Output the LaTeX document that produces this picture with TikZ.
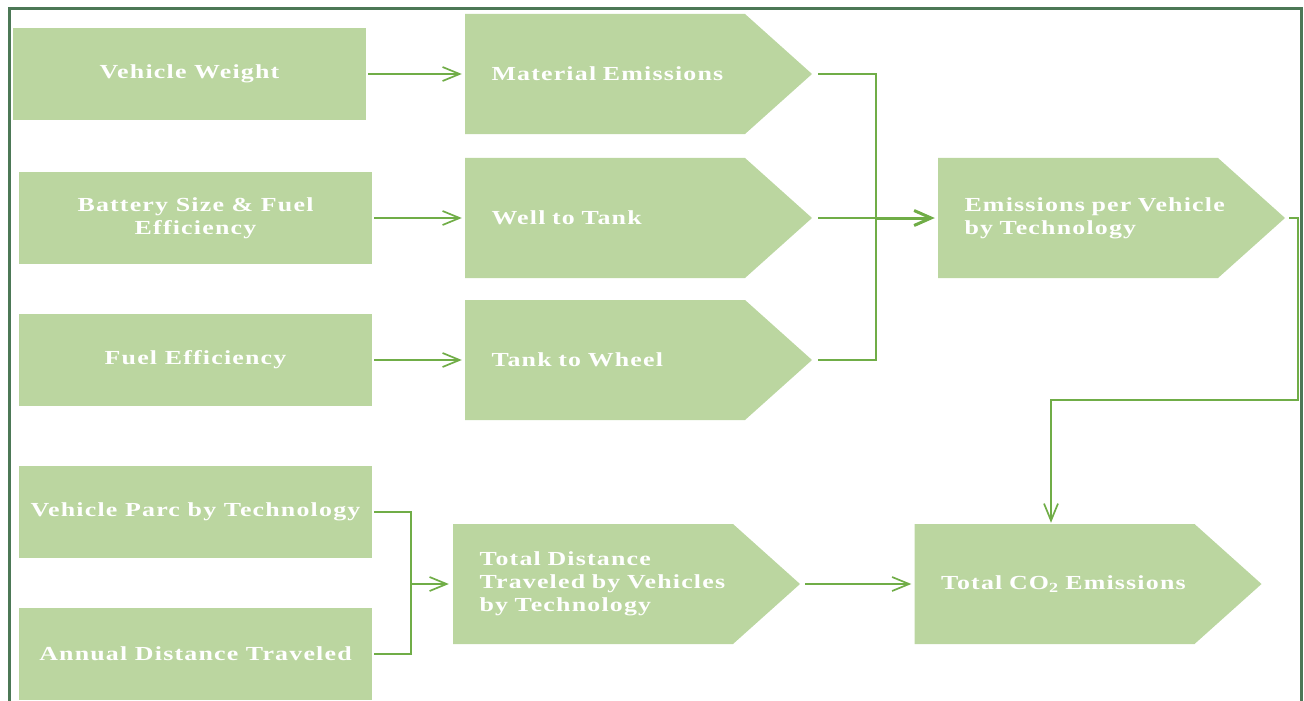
\documentclass[tikz,border=0pt]{standalone}
\usepackage{fontspec}
\usetikzlibrary{arrows.meta,calc}
\newfontfamily\boxfont[FakeStretch=1.3,LetterSpace=6]{Liberation Serif Bold}
\definecolor{boxgreen}{RGB}{187,214,160}
\definecolor{linegreen}{RGB}{112,173,71}
\definecolor{framegreen}{RGB}{76,120,86}
\begin{document}
\begin{tikzpicture}[x=1bp,y=-1bp,
  txt/.style={font={\boxfont\fontsize{20}{23}\selectfont}, text=white},
  rectbox/.style={txt, fill=boxgreen, minimum width=353bp, minimum height=92bp, inner sep=0pt, align=center},
  chevbox/.style={txt, minimum width=347bp, minimum height=120bp, inner sep=0pt, text width=294bp, align=left,
    path picture={\fill[boxgreen] (path picture bounding box.north west) -- ([xshift=-67bp]path picture bounding box.north east) -- (path picture bounding box.east) -- ([xshift=-67bp]path picture bounding box.south east) -- (path picture bounding box.south west) -- cycle;}},
  conn/.style={draw=linegreen, line width=1.7bp},
  arr/.style={conn, -{Straight Barb[length=17bp,width=14bp,line width=1.7bp]}}
]
\useasboundingbox (0,0) rectangle (1304,700);
\draw[framegreen, line width=3bp] (9,9) rectangle (1301,720);

% left boxes
\node[rectbox] (vw) at (189.5,74) {Vehicle Weight};
\node[rectbox] (bat) at (195.5,218) {Battery Size \& Fuel\\Efficiency};
\node[rectbox] (fe) at (195.5,360) {Fuel Efficiency};
\node[rectbox] (vp) at (195.5,512) {Vehicle Parc by Technology};
\node[rectbox] (ad) at (195.5,654) {Annual Distance Traveled};

% chevrons
\node[chevbox] (me) at (638.5,74) {Material Emissions};
\node[chevbox] (wt) at (638.5,218) {Well to Tank};
\node[chevbox] (tw) at (638.5,360) {Tank to Wheel};
\node[chevbox] (ep) at (1111.5,218) {Emissions per Vehicle\\by Technology};
\node[chevbox] (td) at (626.5,584) {Total Distance\\Traveled by Vehicles\\by Technology};
\node[chevbox] (tc) at (1088,584) {Total CO\textsubscript{2} Emissions};

% connectors left -> middle
\draw[arr, shorten <=2bp, shorten >=3bp] (vw.east) -- (vw.east -| me.west);
\draw[arr, shorten <=2bp, shorten >=3bp] (bat.east) -- (bat.east -| wt.west);
\draw[arr, shorten <=2bp, shorten >=3bp] (fe.east) -- (fe.east -| tw.west);

% bracket to emissions per vehicle
\coordinate (j1) at (876,218);
\draw[conn] ([xshift=6bp]me.east) -- (me.east -| j1) -- (tw.east -| j1) -- ([xshift=6bp]tw.east);
\draw[conn] ([xshift=6bp]wt.east) -- (j1);
\draw[draw=linegreen, line width=3bp, -{Straight Barb[length=17bp,width=15bp,line width=3bp]}, shorten >=3bp] (j1) -- (ep.west);

% emissions per vehicle -> total CO2
\coordinate (k) at (1051,400);
\coordinate (r) at (1298,218);
\draw[arr, shorten >=1bp] ([xshift=4bp]ep.east) -- (r) |- (k) -- (k |- tc.north);

% bottom bracket
\coordinate (m) at (411,584);
\draw[conn] ([xshift=2bp]vp.east) -- (vp.east -| m) -- (ad.east -| m) -- ([xshift=2bp]ad.east);
\draw[arr, shorten >=4bp] (m) -- (td.west);

% total distance -> total CO2
\draw[arr, shorten <=5bp, shorten >=3bp] (td.east) -- (tc.west);
\end{tikzpicture}
\end{document}
